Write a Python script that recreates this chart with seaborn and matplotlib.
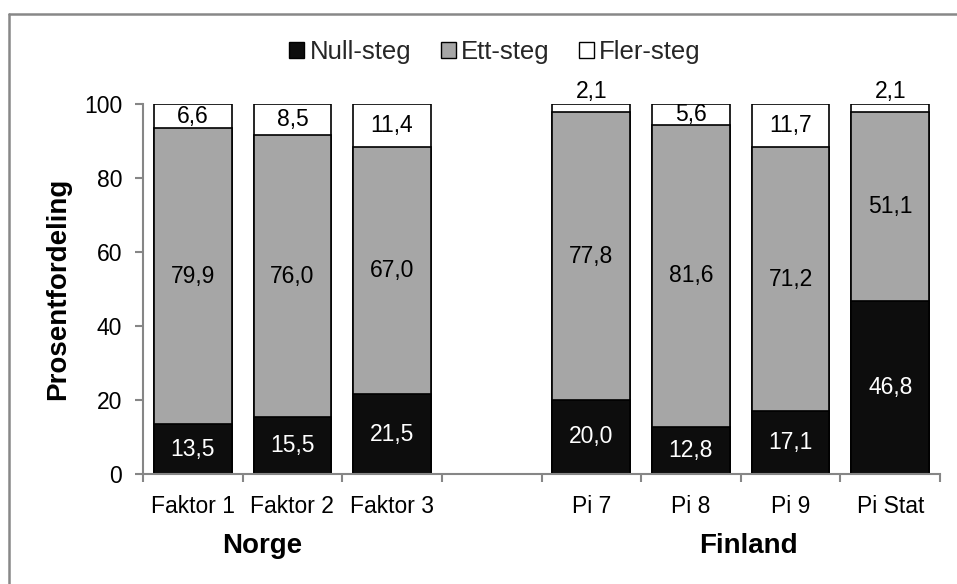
import numpy as np
import pandas as pd
import matplotlib
matplotlib.use("Agg")
import matplotlib.pyplot as plt
from matplotlib.patches import Patch
from matplotlib.lines import Line2D
import seaborn as sns

# Share of answers per category (percent)
categories = ["Faktor 1", "Faktor 2", "Faktor 3", "Pi 7", "Pi 8", "Pi 9", "Pi Stat"]
null_steg = [13.5, 15.5, 21.5, 20.0, 12.8, 17.1, 46.8]
ett_steg = [79.9, 76.0, 67.0, 77.8, 81.6, 71.2, 51.1]
fler_steg = [6.6, 8.5, 11.4, 2.1, 5.6, 11.7, 2.1]
series_names = ["Null-steg", "Ett-steg", "Fler-steg"]
groups = ["Norge", "Finland"]
y_ticks = [0, 20, 40, 60, 80, 100]

# Blank slot separates the two country groups
order = categories[:3] + [""] + categories[3:]

df = pd.DataFrame({
    "kategori": categories,
    "null": null_steg,
    "ett": ett_steg,
    "fler": fler_steg,
})
df["null_ett"] = df["null"] + df["ett"]
df["total"] = df["null_ett"] + df["fler"]

sns.set_theme(style="white")
plt.rcParams["font.family"] = ["Liberation Sans", "DejaVu Sans"]

fig = plt.figure(figsize=(9.57, 5.84), dpi=100)
ax = fig.add_axes([143 / 957, 1 - 474 / 584, (940 - 143) / 957, (474 - 104) / 584])

colors = {"null": "#0d0d0d", "ett": "#a6a6a6", "fler": "#ffffff"}
bar_w = 0.78
# Stacked bars: draw cumulative heights from the top down
for col, c in [("total", colors["fler"]), ("null_ett", colors["ett"]), ("null", colors["null"])]:
    sns.barplot(data=df, x="kategori", y=col, order=order, color=c,
                edgecolor="black", linewidth=1.2, width=bar_w, saturation=1,
                errorbar=None, ax=ax)

tick_fs = 16.5
ax.set_xlim(-0.5, len(order) - 0.5)
ax.set_ylim(0, 100)
ax.set_yticks(y_ticks)
ax.set_yticklabels([str(t) for t in y_ticks], fontsize=tick_fs, color="black")

# Category labels at bar centres, tick marks at slot boundaries
ax.set_xticks(range(len(order)))
ax.set_xticklabels(order, fontsize=tick_fs, color="black")
ax.set_xticks(np.arange(-0.5, len(order), 1.0), minor=True)
ax.tick_params(axis="x", which="major", length=0, pad=15)
ax.tick_params(axis="x", which="minor", length=6, width=1.5, color="#868686", direction="out", bottom=True)
ax.tick_params(axis="y", which="major", length=6, width=1.5, color="#868686", direction="out", left=True, pad=9)

for side in ["top", "right"]:
    ax.spines[side].set_visible(False)
for side in ["left", "bottom"]:
    ax.spines[side].set_color("#868686")
    ax.spines[side].set_linewidth(1.5)

ax.set_xlabel("")
ax.set_ylabel("Prosentfordeling", fontsize=20, fontweight="bold", labelpad=9, color="black")


def fmt(v):
    return f"{v:.1f}".replace(".", ",")


# Value labels
for i, cat in enumerate(categories):
    xpos = order.index(cat)
    n, e, f = null_steg[i], ett_steg[i], fler_steg[i]
    ax.text(xpos, n / 2, fmt(n), ha="center", va="center", fontsize=tick_fs, color="white")
    ax.text(xpos, n + e / 2, fmt(e), ha="center", va="center", fontsize=tick_fs, color="black")
    if f < 4:
        ax.text(xpos, n + e + f + 0.3, fmt(f), ha="center", va="bottom", fontsize=tick_fs,
                color="black", clip_on=False)
    else:
        ax.text(xpos, n + e + f / 2, fmt(f), ha="center", va="center", fontsize=tick_fs, color="black")

# Country group labels
group_y = (474 - 553) / 370
ax.text(0.695, group_y, groups[0], transform=ax.get_xaxis_transform(), ha="center", va="baseline",
        fontsize=20, fontweight="bold", color="black")
ax.text(5.58, group_y, groups[1], transform=ax.get_xaxis_transform(), ha="center", va="baseline",
        fontsize=20, fontweight="bold", color="black")

# Legend
handles = [Patch(facecolor=colors[k], edgecolor="black", linewidth=1.0) for k in ["null", "ett", "fler"]]
fig.legend(handles, series_names, loc="center", bbox_to_anchor=(495 / 957, 1 - 52 / 584),
           ncol=3, frameon=False, fontsize=18.5, handlelength=0.58, handleheight=0.58,
           handletextpad=0.2, columnspacing=1.15, borderpad=0.1)

# Chart-area border (top and left edges)
fig.add_artist(Line2D([9 / 957, 9 / 957], [0, 1 - 14 / 584], transform=fig.transFigure,
                      color="#888888", linewidth=1.8))
fig.add_artist(Line2D([9 / 957, 1], [1 - 14 / 584, 1 - 14 / 584], transform=fig.transFigure,
                      color="#888888", linewidth=1.8))

fig.savefig("out.png", dpi=100)
